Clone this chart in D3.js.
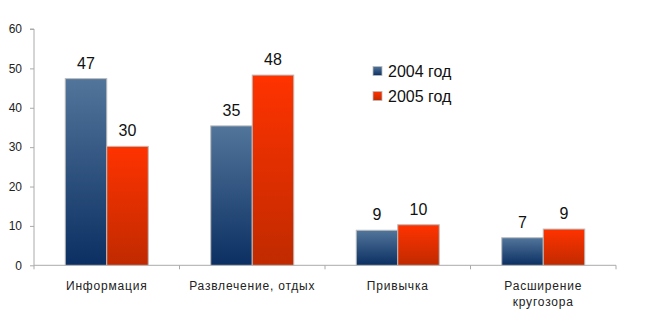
<!DOCTYPE html>
<html><head><meta charset="utf-8">
<script src="https://cdn.jsdelivr.net/npm/d3@7"></script>
<style>body{margin:0;background:#fff}svg{display:block}text{font-family:"Liberation Sans",Arial,sans-serif}</style>
</head><body>
<script>
const categories = [["Информация"], ["Развлечение, отдых"], ["Привычка"], ["Расширение", "кругозора"]];
const seriesNames = ["2004 год", "2005 год"];
const values2004 = [47.4, 35.4, 8.9, 7.0];
const values2005 = [30.2, 48.3, 10.3, 9.2];
const yTicks = [0, 10, 20, 30, 40, 50, 60];

const W = 646, H = 322;
const svg = d3.select("body").append("svg").attr("width", W).attr("height", H);
const defs = svg.append("defs");
function grad(id, top, bot) {
  const g = defs.append("linearGradient").attr("id", id).attr("x1", 0).attr("y1", 0).attr("x2", 0).attr("y2", 1);
  g.append("stop").attr("offset", "0%").attr("stop-color", top);
  g.append("stop").attr("offset", "100%").attr("stop-color", bot);
}
grad("gBlue", "#52759b", "#0b2f62");
grad("gRed", "#ff3300", "#c02a00");
const fills = ["url(#gBlue)", "url(#gRed)"];

const x0 = 34, x1 = 616, yTop = 29, yBot = 265.3;
const x = d3.scaleBand().domain(d3.range(categories.length)).range([x0, x1]).paddingInner(0).paddingOuter(0);
const y = d3.scaleLinear().domain([0, 60]).range([yBot, yTop]);
const bw = 41.5;

// axes
const ya = svg.append("g").attr("transform", `translate(${x0},0)`)
  .call(d3.axisLeft(y).tickValues(yTicks).tickSize(4).tickPadding(8));
ya.select(".domain").attr("stroke", "#aaa").attr("d", `M-4,${yTop}H0V${yBot}`);
ya.selectAll(".tick line").attr("stroke", "#aaa");
ya.selectAll(".tick text").attr("font-size", 12).attr("fill", "#222").attr("font-family", "Liberation Sans, Arial, sans-serif");

const xa = svg.append("g");
xa.append("line").attr("x1", x0).attr("x2", x1).attr("y1", yBot).attr("y2", yBot).attr("stroke", "#aaa");
d3.range(categories.length + 1).forEach(i => {
  const xx = x0 + i * x.bandwidth();
  xa.append("line").attr("x1", xx).attr("x2", xx).attr("y1", yBot).attr("y2", yBot + 4).attr("stroke", "#aaa");
});

const series = [values2004, values2005];
series.forEach((vals, s) => {
  const g = svg.append("g");
  vals.forEach((v, i) => {
    const cx = x(i) + x.bandwidth() / 2;
    const bx = cx - bw + s * bw;
    g.append("rect").attr("x", bx).attr("y", y(v)).attr("width", bw).attr("height", y(0) - y(v))
      .attr("fill", fills[s]).attr("stroke", "#bcbcbc").attr("stroke-width", 1);
    g.append("text").attr("x", bx + bw / 2).attr("y", y(v) - 10).attr("text-anchor", "middle")
      .attr("font-size", 16).attr("fill", "#111").text(Math.round(v));
  });
});

categories.forEach((lines, i) => {
  const cx = x(i) + x.bandwidth() / 2;
  const t = svg.append("text").attr("text-anchor", "middle").attr("font-size", 12).attr("fill", "#222").attr("letter-spacing", 0.8);
  lines.forEach((l, j) => t.append("tspan").attr("x", cx).attr("y", 290 + j * 16).text(l));
});

const lg = svg.append("g");
seriesNames.forEach((n, i) => {
  const yy = 71 + i * 25;
  lg.append("rect").attr("x", 373).attr("y", yy - 4.5).attr("width", 9).attr("height", 9)
    .attr("fill", fills[i]).attr("stroke", "#bcbcbc").attr("stroke-width", 0.8);
  lg.append("text").attr("x", 388).attr("y", yy + 5.5).attr("font-size", 16).attr("fill", "#111").text(n);
});
</script>
</body></html>
